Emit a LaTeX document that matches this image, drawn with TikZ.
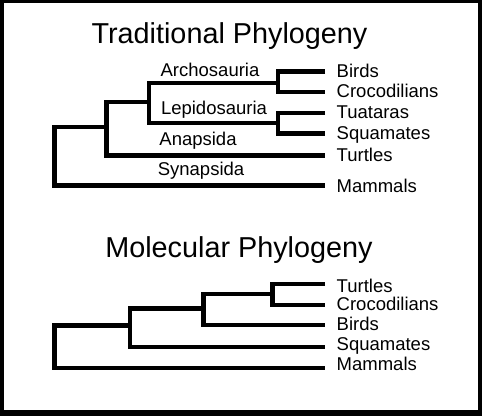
\documentclass[tikz,border=0pt]{standalone}
\usepackage{fontspec}
\setmainfont{Liberation Sans}
\begin{document}
\begin{tikzpicture}[x=1pt,y=-1pt,
  branch/.style={line width=4.5pt, black},
  leaf/.style={inner sep=0pt, anchor=base west, font=\fontsize{18.5}{20}\selectfont},
  clade/.style={inner sep=0pt, anchor=base, font=\fontsize{18.5}{20}\selectfont},
  title/.style={inner sep=0pt, anchor=base, font=\fontsize{28.8}{32}\selectfont}]
\useasboundingbox (0,0) rectangle (482,416);
\fill[black] (0,0) rectangle (482,416);
\fill[white] (4,3) rectangle (478,410);

% ---------- Traditional ----------
\node[title] (t1) at (229.5,43.3) {Traditional Phylogeny};

\coordinate (tB)  at (325,71.7);
\coordinate (tC)  at (325,92.2);
\coordinate (tT)  at (325,112.8);
\coordinate (tS)  at (325,133.3);
\coordinate (tTu) at (325,155.5);
\coordinate (tM)  at (325,185.5);
\coordinate (nAC)   at (278,83);
\coordinate (nTS)   at (278,123);
\coordinate (nArLe) at (149,102);
\coordinate (nRep)  at (106.7,127);
\coordinate (nRoot) at (54.5,156);

\draw[branch] (tB) -| (nAC) |- (tC);
\draw[branch] (tT) -| (nTS) |- (tS);
\draw[branch] (nAC) -| (nArLe) |- (nTS);
\draw[branch] (nArLe) -| (nRep) |- (tTu);
\draw[branch] (nRep) -| (nRoot) |- (tM);

\node[leaf] (lB)  at (336.5,77.3)  {Birds};
\node[leaf] (lC)  at (336.5,97.7)  {Crocodilians};
\node[leaf] (lT)  at (336.5,118.3) {Tuataras};
\node[leaf] (lS)  at (336.5,139)   {Squamates};
\node[leaf] (lTu) at (336.5,161.7) {Turtles};
\node[leaf] (lM)  at (336.5,192.7) {Mammals};

\node[clade] (cA) at (210,76)  {Archosauria};
\node[clade] (cL) at (214,114) {Lepidosauria};
\node[clade] (cN) at (198,145) {Anapsida};
\node[clade] (cS) at (201,175) {Synapsida};

% ---------- Molecular ----------
\node[title] (t2) at (239,257.7) {Molecular Phylogeny};

\coordinate (bT) at (325,283.8);
\coordinate (bC) at (325,304.8);
\coordinate (bB) at (325,324.8);
\coordinate (bS) at (325,346.8);
\coordinate (bM) at (325,367.8);
\coordinate (mTC) at (272.5,294);
\coordinate (mA)  at (203.3,308.3);
\coordinate (mS)  at (130,325.5);
\coordinate (mR)  at (54.5,346);

\draw[branch] (bT) -| (mTC) |- (bC);
\draw[branch] (mTC) -| (mA) |- (bB);
\draw[branch] (mA) -| (mS) |- (bS);
\draw[branch] (mS) -| (mR) |- (bM);

\node[leaf] (mlT) at (336.5,292.3) {Turtles};
\node[leaf] (mlC) at (336.5,310.7) {Crocodilians};
\node[leaf] (mlB) at (336.5,330)   {Birds};
\node[leaf] (mlS) at (336.5,350)   {Squamates};
\node[leaf] (mlM) at (336.5,370)   {Mammals};
\end{tikzpicture}
\end{document}
